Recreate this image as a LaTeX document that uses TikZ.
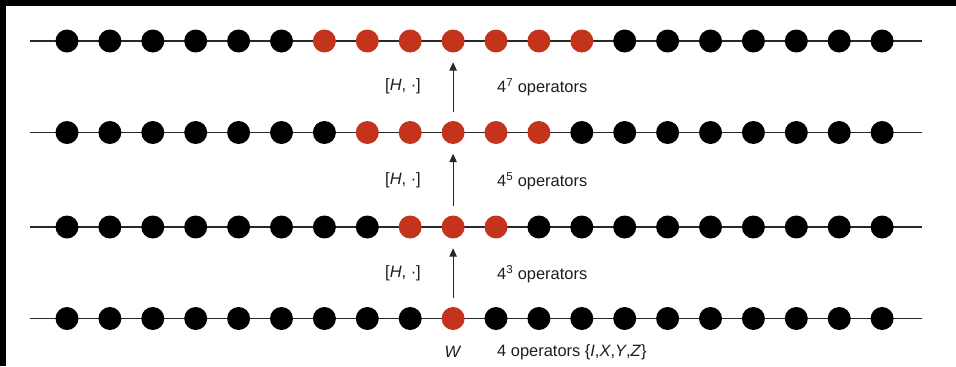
\documentclass[tikz,border=0pt]{standalone}
\usepackage{fontspec}
\setmainfont{Liberation Sans}
\usetikzlibrary{arrows.meta}
\definecolor{opred}{RGB}{196,52,28}
\definecolor{linegray}{RGB}{40,40,40}
\definecolor{textgray}{RGB}{30,30,30}
\begin{document}
\begin{tikzpicture}[x=1bp,y=-1bp,
  site/.style={circle,fill=black,inner sep=0pt,minimum size=23bp},
  redsite/.style={site,fill=opred},
  chainline/.style={draw=linegray,line width=1.1pt},
  growarrow/.style={draw=linegray,line width=1.1pt,-{Triangle[length=8.5bp,width=7.5bp]},shorten <=9bp,shorten >=9.5bp},
  lbl/.style={font=\fontsize{16.5}{19}\selectfont,inner sep=0pt,text=textgray},
  lblleft/.style={lbl,anchor=west}]
\useasboundingbox (0,0) rectangle (956,366);
\fill[white] (0,0) rectangle (956,366);
\fill[black] (0,0) rectangle (956,6);
\fill[black] (0,0) rectangle (6,366);
% rows: y positions and red ranges
\foreach \r/\yy/\lo/\hi in {1/41/6/12, 2/132.5/7/11, 3/227/8/10, 4/318.5/9/9}{
  \coordinate (s\r) at (30,\yy);
  \coordinate (e\r) at (922,\yy);
  \draw[chainline] (s\r) -- (e\r);
  \foreach \i in {0,...,19}{
    \pgfmathtruncatemacro{\isred}{(\i>=\lo)&&(\i<=\hi)}
    \ifnum\isred=1
      \node[redsite] (d\r-\i) at ({67+\i*42.9},\yy) {};
    \else
      \node[site] (d\r-\i) at ({67+\i*42.9},\yy) {};
    \fi
  }
}
\draw[growarrow] (d4-9) -- (d3-9);
\draw[growarrow] (d3-9) -- (d2-9);
\draw[growarrow] (d2-9) -- (d1-9);
\node[lbl] (h1) at (403,86.5) {[\textit{H}, ·]};
\node[lbl] (h2) at (403,180) {[\textit{H}, ·]};
\node[lbl] (h3) at (403,273) {[\textit{H}, ·]};
\node[lblleft] (o1) at (497,87) {4\textsuperscript{7} operators};
\node[lblleft] (o2) at (497,181) {4\textsuperscript{5} operators};
\node[lblleft] (o3) at (497,274) {4\textsuperscript{3} operators};
\node[lbl] (w) at (453,352) {\textit{W}};
\node[lblleft] (o4) at (497,352) {4 operators \{\textit{I},\textit{X},\textit{Y},\textit{Z}\}};
\end{tikzpicture}
\end{document}
